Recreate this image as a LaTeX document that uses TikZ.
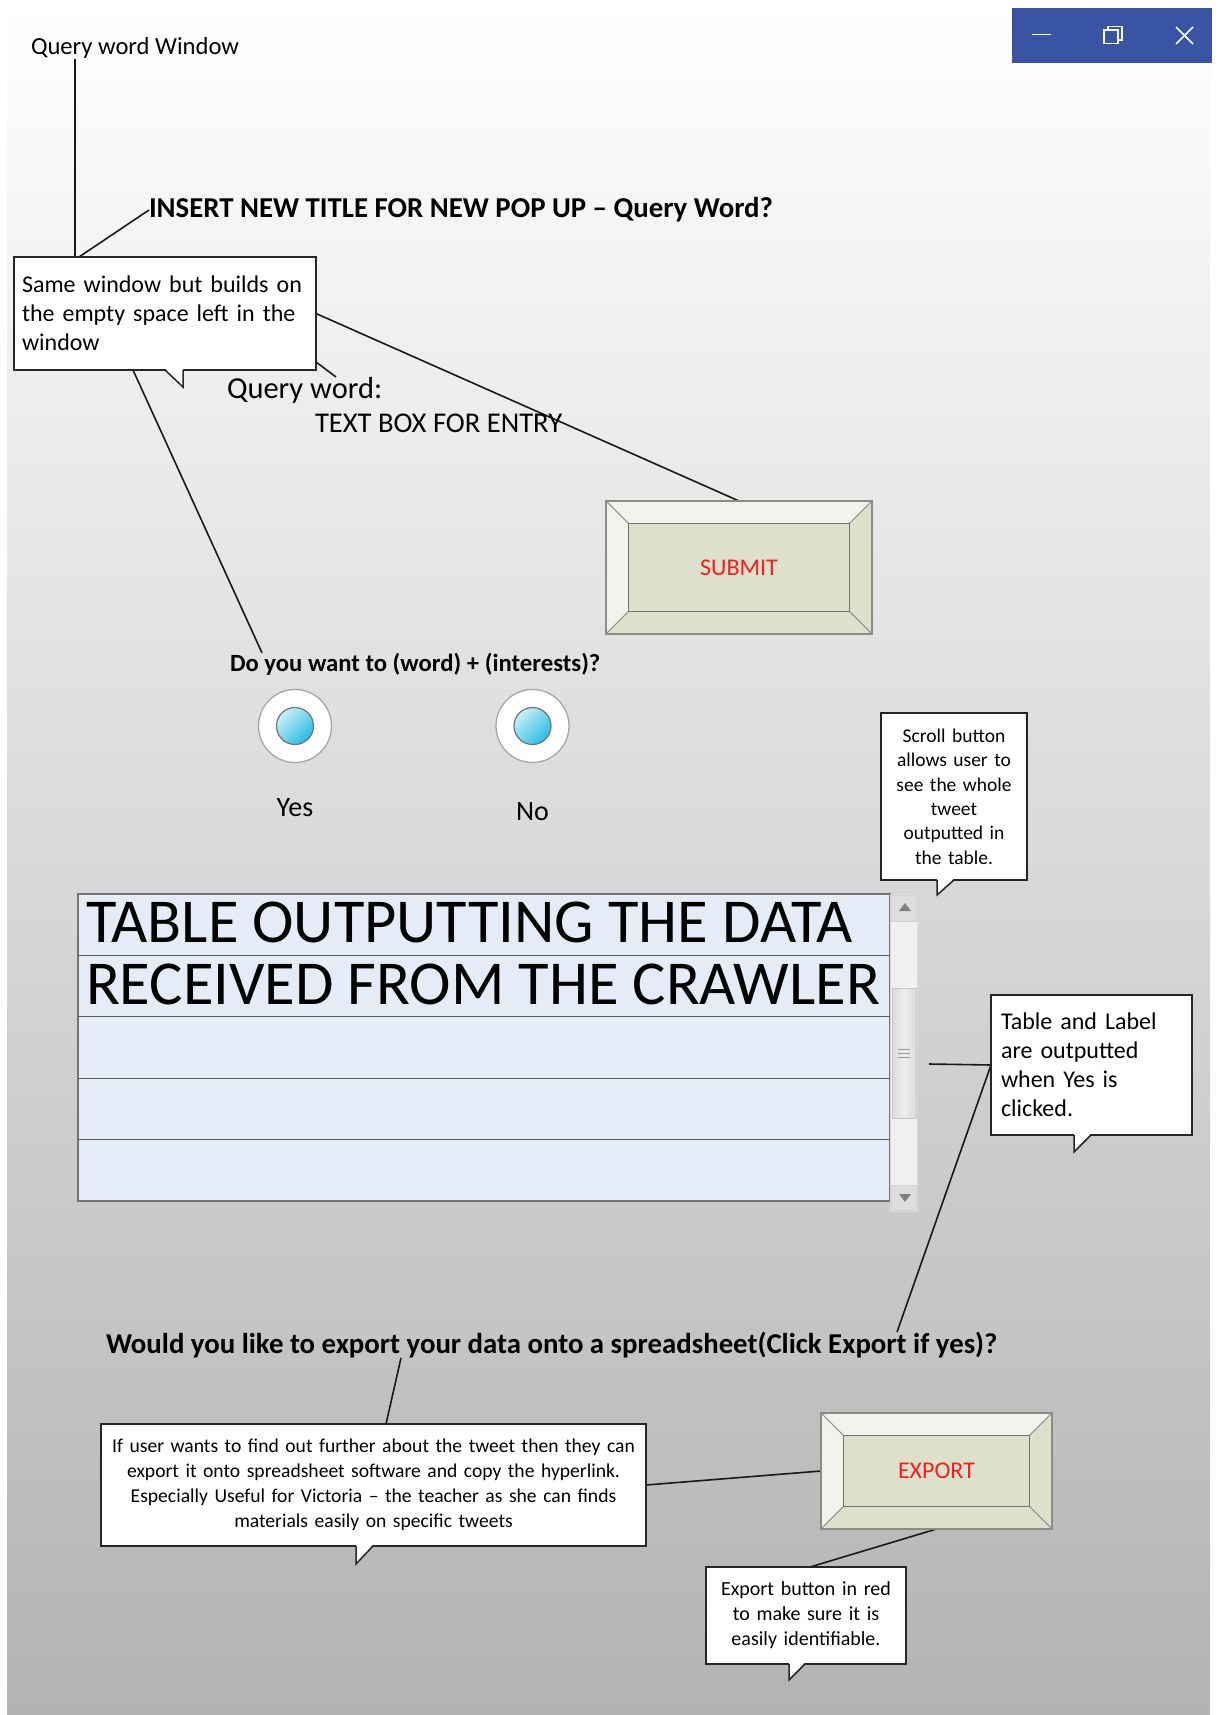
\documentclass[tikz,border=0pt]{standalone}
\usepackage{fontspec}
\setmainfont{Carlito}
\usetikzlibrary{calc}

\definecolor{bgbottom}{RGB}{179,179,179}
\definecolor{winblue}{RGB}{57,84,163}
\definecolor{bevlight}{RGB}{242,243,236}
\definecolor{bevdark}{RGB}{221,225,203}
\definecolor{bevedge}{RGB}{138,140,134}
\definecolor{faceedge}{RGB}{112,114,110}
\definecolor{tablefill}{RGB}{230,236,247}
\definecolor{btnred}{RGB}{250,28,28}
\definecolor{radioin}{RGB}{40,188,226}
\definecolor{radiohi}{RGB}{200,240,248}

\newcommand\fs[2]{\fontsize{#1}{#2}\selectfont}

\pgfdeclarelayer{back}
\pgfdeclarelayer{wires}
\pgfsetlayers{back,wires,main}

\tikzset{
  lbl/.style={inner sep=0pt, outer sep=0pt, anchor=west, text=black},
  note/.style={draw=black!85, line width=1.5pt, fill=white, inner ysep=2pt,
    outer sep=0pt, anchor=north west},
  noteline/.style={draw=black!85, line width=1.5pt, line join=miter},
  wire/.style={draw=black!90, line width=1.6pt},
  btnbox/.style={rectangle, inner sep=0pt, outer sep=0pt, anchor=north west},
  btnlbl/.style={inner sep=0pt, font=\fs{24}{29}, text=btnred},
  radio/.style={circle, draw=black!35, line width=1.3pt, fill=white,
    minimum size=73pt, inner sep=0pt, outer sep=0pt},
  radiodot/.style={circle, draw=black!55, line width=1.2pt, minimum size=37pt,
    inner sep=0pt, top color=radiohi, bottom color=radioin, shading angle=45},
  winbar/.style={fill=winblue, minimum width=200pt, minimum height=55pt,
    anchor=north west, inner sep=0pt, outer sep=0pt},
  winicon/.style={draw=white, line width=1.6pt},
  rowline/.style={draw=black!65, line width=1.2pt},
  scrollpart/.style={rectangle, anchor=north west, inner sep=0pt, outer sep=0pt},
}

% tail of a speech bubble: node, base left x, base right x, tip x, tip y
\newcommand\calltail[5]{%
  \coordinate (#1-tl) at (#2,0 |- #1.south);
  \coordinate (#1-tr) at (#3,0 |- #1.south);
  \fill[white] ($(#1-tl)+(0,-1.6)$) -- (#4,#5) -- ($(#1-tr)+(0,-1.6)$) -- cycle;
  \draw[noteline] (#1-tl) -- (#4,#5) -- (#1-tr);}

% bevelled push button drawn over an empty rectangular node
\newcommand\bevel[2]{%
  \coordinate (#1-a) at ($(#1.north west)+(#2,#2)$);
  \coordinate (#1-b) at ($(#1.north east)+(-#2,#2)$);
  \coordinate (#1-c) at ($(#1.south east)+(-#2,-#2)$);
  \coordinate (#1-d) at ($(#1.south west)+(#2,-#2)$);
  \filldraw[fill=bevlight, draw=bevedge, line width=0.8pt]
    (#1.north west) -- (#1.north east) -- (#1-b) -- (#1-a) -- cycle;
  \filldraw[fill=bevlight, draw=bevedge, line width=0.8pt]
    (#1.north west) -- (#1-a) -- (#1-d) -- (#1.south west) -- cycle;
  \filldraw[fill=bevdark, draw=bevedge, line width=0.8pt]
    (#1.north east) -- (#1.south east) -- (#1-c) -- (#1-b) -- cycle;
  \filldraw[fill=bevdark, draw=bevedge, line width=0.8pt]
    (#1.south west) -- (#1-d) -- (#1-c) -- (#1.south east) -- cycle;
  \filldraw[fill=bevdark, draw=faceedge, line width=1.8pt] (#1-a) rectangle (#1-c);
  \draw[draw=bevedge, line width=1.4pt] (#1.north west) rectangle (#1.south east);}

\begin{document}
\begin{tikzpicture}[x=1pt,y=-1pt]
\useasboundingbox (0,0) rectangle (1219,1715);

% window background
\begin{pgfonlayer}{back}
  \fill[white] (0,0) rectangle (1219,1715);
  \shade[top color=white, bottom color=bgbottom] (7,0) rectangle (1210,1715);
\end{pgfonlayer}

% window controls
\node[winbar] (winbar) at (1012,8) {};
\draw[winicon] (1032,34.5) -- (1051,34.5);
\draw[winicon] (1108,30) -- (1108,26.5) -- (1122,26.5) -- (1122,40) -- (1118,40);
\draw[winicon] (1104,30) rectangle (1118,43.5);
\draw[winicon] (1176,27) -- (1193,44) (1193,27) -- (1176,44);

% labels
\node[lbl, font=\fs{24.6}{29}] (qww) at (31,48) {Query word Window};
\node[lbl, font=\fs{28.8}{34}\bfseries] (title) at (149,210) {INSERT NEW TITLE FOR NEW POP UP – Query Word?};
\node[lbl, font=\fs{30.5}{36}] (qword) at (227,390) {Query word:};
\node[lbl, font=\fs{28.6}{34}] (textbox) at (315,423) {TEXT BOX FOR ENTRY};
\node[lbl, font=\fs{24.7}{29}\bfseries] (doyou) at (230,664) {Do you want to (word) + (interests)?};
\node[lbl, anchor=center, font=\fs{28}{34}] (yes) at (295,808) {Yes};
\node[lbl, anchor=center, font=\fs{28}{34}] (no) at (532.5,812) {No};
\node[lbl, font=\fs{28.8}{34}\bfseries] (wq) at (106,1345) {Would you like to export your data onto a spreadsheet(Click Export if yes)?};

% buttons
\node[btnbox, minimum width=266pt, minimum height=133pt] (submit) at (606,501) {};
\bevel{submit}{22.5}
\node[btnlbl] (submitlbl) at (submit.center) {SUBMIT};

\node[btnbox, minimum width=231pt, minimum height=116pt] (export) at (821,1413) {};
\bevel{export}{22.5}
\node[btnlbl] (exportlbl) at (export.center) {EXPORT};

% radio buttons
\node[radio] (yesbtn) at (295,726) {};
\node[radiodot] (yesdot) at (yesbtn.center) {};
\node[radio] (nobtn) at (532.5,726) {};
\node[radiodot] (nodot) at (nobtn.center) {};

% output table with scroll bar
\node[scrollpart, fill=tablefill, draw=black!55, line width=1.2pt,
  minimum width=812pt, minimum height=307pt] (table) at (78,894) {};
\foreach \k in {1,...,4}
  \draw[rowline] ($(table.north west)+(0,61.4*\k)$) -- ($(table.north east)+(0,61.4*\k)$);
\node[lbl, font=\fs{62.5}{62}] (row1) at (86,922) {TABLE OUTPUTTING THE DATA};
\node[lbl, font=\fs{62.5}{62}] (row2) at (86,984) {RECEIVED FROM THE CRAWLER};

\node[scrollpart, fill=black!6, draw=black!14, line width=0.8pt,
  minimum width=27pt, minimum height=317pt] (scroll) at (890,894) {};
\node[scrollpart, fill=black!13, draw=black!18, line width=0.6pt,
  minimum width=25pt, minimum height=26pt] (scrollup) at (891,895) {};
\fill[black!50] (899,911) -- (911,911) -- (905,903) -- cycle;
\node[scrollpart, fill=black!13, draw=black!18, line width=0.6pt,
  minimum width=25pt, minimum height=25pt] (scrolldown) at (891,1185) {};
\fill[black!50] (899,1194) -- (911,1194) -- (905,1202) -- cycle;
\node[scrollpart, left color=black!14, right color=black!14, middle color=black!7,
  draw=black!22, line width=0.8pt, minimum width=24pt, minimum height=130pt] (thumb) at (892,988) {};
\foreach \g in {1049,1053,1057}
  \draw[black!40, line width=0.9pt] (898,\g) -- (910,\g);
\coordinate (scrollpt) at (929,1064);

% speech bubbles
\node[note, inner xsep=8pt, minimum width=302pt, minimum height=113pt, text width=286pt,
  align=left, font=\fs{24}{29}] (c1) at (14,257)
  {Same window but builds on\\the empty space left in the\\window};
\calltail{c1}{165}{183}{183}{387}

\node[note, inner xsep=2pt, minimum width=146pt, minimum height=167pt, text width=142pt,
  align=center, font=\fs{19.5}{24.4}] (c2) at (881,713)
  {Scroll button\\allows user to\\see the whole\\tweet\\outputted in\\the table.};
\calltail{c2}{937}{954}{937}{895}

\node[note, inner xsep=10pt, minimum width=201pt, minimum height=140pt, text width=181pt,
  align=left, font=\fs{24}{29}] (c3) at (991,995)
  {Table and Label\\are outputted\\when Yes is\\clicked.};
\calltail{c3}{1074}{1091}{1074}{1152}

\node[note, inner xsep=2pt, minimum width=545pt, minimum height=122pt, text width=541pt,
  align=center, font=\fs{19.6}{25}] (c4) at (101,1424)
  {If user wants to find out further about the tweet then they can\\export it onto spreadsheet software and copy the hyperlink.\\Especially Useful for Victoria – the teacher as she can finds\\materials easily on specific tweets};
\calltail{c4}{356}{373}{356}{1564}

\node[note, inner xsep=2pt, minimum width=200pt, minimum height=97pt, text width=196pt,
  align=center, font=\fs{20}{25}] (c5) at (706,1567)
  {Export button in red\\to make sure it is\\easily identifiable.};
\calltail{c5}{789}{805}{789}{1680}

% connectors
\begin{pgfonlayer}{wires}
  \draw[wire] (75,0 |- qww.south) -- (75,0 |- c1.north);
  \draw[wire] (79,0 |- c1.north) -- (title.west);
  \draw[wire] (c1.east) -- (submit.north);
  \draw[wire] ($(c1.south east)+(0,-8)$) -- (336,0 |- qword.north);
  \draw[wire] (133,0 |- c1.south) -- (262,0 |- doyou.north);
  \draw[wire] (scrollpt) -- (c3.west);
  \draw[wire] (c3.west) -- (897,0 |- wq.north);
  \draw[wire] (401,0 |- wq.south) -- (386,0 |- c4.north);
  \draw[wire] (c4.east) -- (export.west);
  \draw[wire] (export.south) -- (810,0 |- c5.north);
\end{pgfonlayer}
\end{tikzpicture}
\end{document}
